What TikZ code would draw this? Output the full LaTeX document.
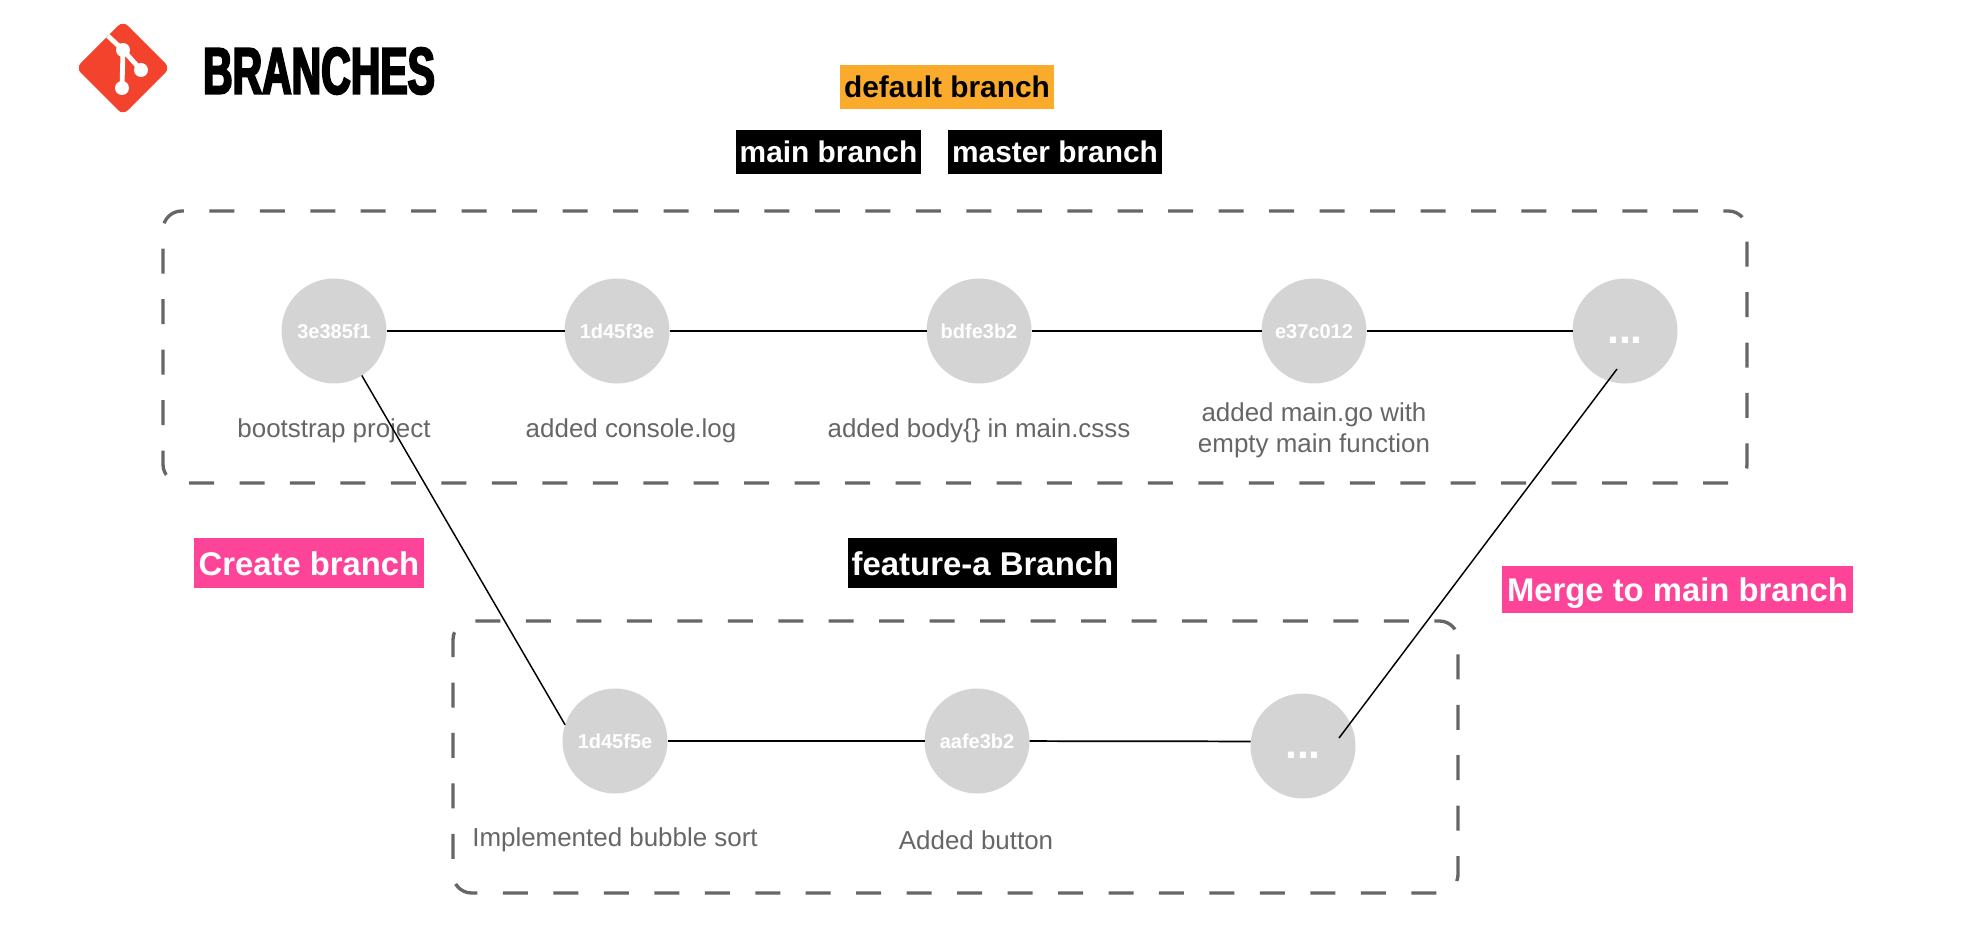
\documentclass[tikz,border=0pt]{standalone}
\usepackage{fontspec}
\setmainfont{Liberation Sans}
\newfontfamily\titlefont[BoldFeatures={FakeStretch=0.62,FakeBold=3}]{Liberation Sans}
\usepackage{tikz}
\definecolor{gitred}{HTML}{F4432D}
\definecolor{commitgray}{HTML}{D4D4D4}
\definecolor{msggray}{HTML}{666666}
\definecolor{tagorange}{HTML}{FBAB2B}
\definecolor{tagpink}{HTML}{FD4499}
\tikzstyle{commit} = [circle,fill=commitgray,text=white,minimum size=78.75pt,inner sep=0pt,outer sep=0pt,
    font=\bfseries\fontsize{15}{18}\selectfont,text height=11pt,text depth=0pt]
\tikzstyle{tailcommit} = [commit,font=\bfseries\fontsize{32}{36}\selectfont,text height=18pt]
\tikzstyle{msg} = [text=msggray,align=center,inner sep=0pt,font=\fontsize{19.45}{23.25}\selectfont]
\tikzstyle{tag} = [inner sep=0pt,text height=16.5pt,text depth=0pt,font=\bfseries\fontsize{22.4}{26}\selectfont]
\tikzstyle{darktag} = [tag,fill=black,text=white]
\tikzstyle{pinktag} = [tag,fill=tagpink,text=white,text height=18pt,font=\bfseries\fontsize{24.6}{28}\selectfont]
\tikzstyle{groupbox} = [draw=msggray,rounded corners=14pt,line width=2.5pt,inner sep=0pt,
    minimum height=204pt,dash pattern=on 18.75pt off 19.1pt,dash phase=15pt]
\tikzset{commitline/.style={line width=1.3pt},mergeline/.style={line width=1.1pt}}

\begin{document}
\begin{tikzpicture}[x=0.75pt,y=-0.75pt]
\useasboundingbox (0,0) rectangle (1962,938);
    %logo
    \fill[gitred,rounded corners=5pt] (123,21) -- (170,68) -- (123,115) -- (76,68) -- cycle;
    \draw[white,line width=3.6pt] (108,36) -- (123,50) -- (122,88);
    \draw[white,line width=3.6pt] (123,50) -- (141,70);
    \fill[white] (123,50) circle[radius=7] (141,70) circle[radius=7] (122,88) circle[radius=7];
    %title
    \node[inner sep=0pt,font=\titlefont\bfseries\fontsize{49.5}{54}\selectfont] (title) at (319,71) {BRANCHES};
    %branch names
    \node[tag,fill=tagorange,minimum width=160.5pt,minimum height=33pt] (defaulttag) at (947,87) {default branch};
    \node[darktag,minimum width=138.75pt,minimum height=33pt] (maintag) at (828.5,152) {main branch};
    \node[darktag,minimum width=160.5pt,minimum height=33pt] (mastertag) at (1055,152) {master branch};
    \node[darktag,text height=18pt,font=\bfseries\fontsize{24.7}{28}\selectfont,minimum width=201.75pt,minimum height=37.5pt] (featuretag) at (982.5,563) {feature-a Branch};
    \node[pinktag,minimum width=172.5pt,minimum height=37.5pt] (createtag) at (309,563) {Create branch};
    \node[pinktag,minimum width=263.25pt,minimum height=35.25pt] (mergetag) at (1677.5,589.5) {Merge to main branch};
    %boxes
    \node[groupbox,minimum width=1188pt] (mainbox) at (955,347) {};
    \node[groupbox,minimum width=753.75pt] (featurebox) at (955.5,757) {};
    %commits
    \node[commit] (c1) at (334,331) {3e385f1};
    \node[commit] (c2) at (617,331) {1d45f3e};
    \node[commit] (c3) at (979,331) {bdfe3b2};
    \node[commit] (c4) at (1314,331) {e37c012};
    \node[tailcommit] (c5) at (1625,331) {...};
    \node[commit] (f1) at (615,741) {1d45f5e};
    \node[commit] (f2) at (977,741) {aafe3b2};
    \node[tailcommit] (f3) at (1303,746) {...};
    %lines
    \draw[commitline] (c1) -- (c2);
    \draw[commitline] (c2) -- (c3);
    \draw[commitline] (c3) -- (c4);
    \draw[commitline] (c4) -- (c5);
    \draw[commitline] (f1) -- (f2);
    \draw[commitline] (f2) -- (f3.175);
    %labels
    \node[msg] (m1) at (334,431) {bootstrap project};
    \node[msg] (m2) at (631,431) {added console.log};
    \node[msg] (m3) at (979,431) {added body\{\} in main.csss};
    \node[msg] (m4) at (1314,430) {added main.go with\\empty main function};
    \node[msg] (n1) at (615,840) {Implemented bubble sort};
    \node[msg] (n2) at (976,840) {Added button};
    %branching off and merging back
    \coordinate (mergestart) at (1339,738);
    \coordinate (mergeend) at (1617,369);
    \draw[mergeline] (c1.-58) -- (f1.162);
    \draw[mergeline] (mergestart) -- (mergeend);
\end{tikzpicture}
\end{document}
